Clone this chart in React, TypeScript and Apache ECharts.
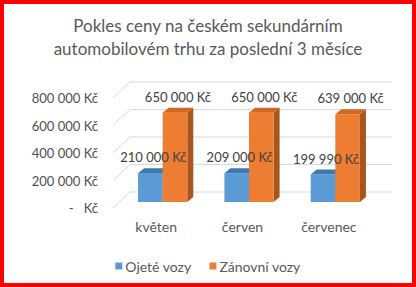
import React, { useEffect, useRef } from "react";
import * as echarts from "echarts";

const categories = ["květen", "červen", "červenec"];
const usedCars = [210000, 209000, 199990];
const nearlyNewCars = [650000, 650000, 639000];
const yTicks = [0, 200000, 400000, 600000, 800000];
const seriesNames = ["Ojeté vozy", "Zánovní vozy"];
const titleText = "Pokles ceny na českém sekundárním\nautomobilovém trhu za poslední 3 měsíce";

const FONT = "Lato";

const fmt = (v: number) =>
  v === 0 ? "-   Kč" : String(v).replace(/\B(?=(\d{3})+(?!\d))/g, " ") + " Kč";

const DX = 6.5;
const DY = -6;
const TDX = 6;
const TDY = -5;

function geom(api: any, slot: number) {
  const idx = api.value(0);
  const val = api.value(1);
  const base = api.coord([idx, 0]);
  const tp = api.coord([idx, val]);
  const band = api.size([1, 0])[0];
  const w = band * 0.285;
  const x0 = base[0] + DX + (slot - 1) * w;
  const yb = base[1] + DY;
  const yt = tp[1] + DY;
  return { val, w, x0, yb, yt };
}

function makeBar(slot: number, front: string, top: string, side: string) {
  return (params: any, api: any) => {
    const { w, x0, yb, yt } = geom(api, slot);
    return {
      type: "group",
      children: [
        {
          type: "polygon",
          shape: {
            points: [
              [x0 + w, yt],
              [x0 + w + TDX, yt + TDY],
              [x0 + w + TDX, yb + TDY],
              [x0 + w, yb],
            ],
          },
          style: { fill: side },
        },
        {
          type: "rect",
          shape: { x: x0, y: yt, width: w, height: yb - yt },
          style: { fill: front },
        },
        {
          type: "polygon",
          shape: {
            points: [
              [x0, yt],
              [x0 + w, yt],
              [x0 + w + TDX, yt + TDY],
              [x0 + TDX, yt + TDY],
            ],
          },
          style: { fill: top },
        },
      ],
    };
  };
}

function makeLabel(slot: number, labelDx: number) {
  return (params: any, api: any) => {
    const { val, w, x0, yt } = geom(api, slot);
    return {
      type: "text",
      x: x0 + w / 2 + labelDx,
      y: yt - 16,
      style: {
        text: fmt(val),
        fill: "#404040",
        font: `13px ${FONT}`,
        align: "center",
        verticalAlign: "middle",
      },
    };
  };
}

export default function App() {
  const ref = useRef<HTMLDivElement>(null);
  useEffect(() => {
    const chart = echarts.init(ref.current!, undefined, { renderer: "svg" });
    chart.setOption({
      animation: false,
      backgroundColor: "#ffffff",
      textStyle: { fontFamily: FONT },
      title: {
        text: titleText,
        left: "center",
        top: 9,
        textStyle: {
          fontFamily: FONT,
          fontSize: 17,
          fontWeight: "normal",
          color: "#595959",
          lineHeight: 23,
        },
      },
      legend: {
        data: seriesNames,
        left: "center",
        top: 254,
        icon: "rect",
        itemWidth: 7,
        itemHeight: 7,
        itemGap: 18,
        textStyle: { fontFamily: FONT, fontSize: 14, color: "#595959", padding: [0, 0, 0, -2] },
      },
      grid: { left: 113, width: 259, top: 98, height: 110 },
      xAxis: {
        type: "category",
        data: categories,
        axisLine: { show: false },
        axisTick: { show: false },
        axisLabel: { margin: 11, fontSize: 14, color: "#595959", fontFamily: FONT },
      },
      yAxis: {
        type: "value",
        min: 0,
        max: 800000,
        interval: 200000,
        axisLine: { show: false },
        axisTick: { show: false },
        splitLine: { show: false },
        axisLabel: {
          margin: 15,
          fontSize: 13,
          color: "#505050",
          fontFamily: FONT,
          formatter: (v: number) => fmt(v),
        },
      },
      series: [
        {
          type: "custom",
          name: "grid",
          silent: true,
          clip: false,
          z: 0,
          data: yTicks.map((v) => [0, v]),
          encode: { x: 0, y: 1 },
          renderItem: (params: any, api: any) => {
            const cs = params.coordSys;
            const y = api.coord([0, api.value(1)])[1];
            return {
              type: "polyline",
              shape: {
                points: [
                  [cs.x, y],
                  [cs.x + 17, y - 16],
                  [cs.x + cs.width + 20, y - 16],
                ],
              },
              style: { stroke: "#d9d9d9", lineWidth: 1, fill: "none" },
            };
          },
        },
        {
          type: "custom",
          name: seriesNames[0],
          clip: false,
          z: 2,
          itemStyle: { color: "#5b9bd5" },
          data: usedCars.map((v, i) => [i, v]),
          encode: { x: 0, y: 1 },
          renderItem: makeBar(0, "#5b9bd5", "#3f78b0", "#3a6d9e"),
        },
        {
          type: "custom",
          name: seriesNames[1],
          clip: false,
          z: 3,
          itemStyle: { color: "#ed7d31" },
          data: nearlyNewCars.map((v, i) => [i, v]),
          encode: { x: 0, y: 1 },
          renderItem: makeBar(1, "#ed7d31", "#cf6a22", "#a9561e"),
        },
        {
          type: "custom",
          name: "labels-used",
          clip: false,
          silent: true,
          z: 5,
          data: usedCars.map((v, i) => [i, v]),
          encode: { x: 0, y: 1 },
          renderItem: makeLabel(0, 3),
        },
        {
          type: "custom",
          name: "labels-new",
          clip: false,
          silent: true,
          z: 5,
          data: nearlyNewCars.map((v, i) => [i, v]),
          encode: { x: 0, y: 1 },
          renderItem: makeLabel(1, 3),
        },
      ],
    });
    return () => chart.dispose();
  }, []);
  return (
    <div style={{ position: "fixed", left: 0, top: 0, width: 416, height: 287, background: "#fff" }}>
      <div ref={ref} style={{ position: "absolute", left: 0, top: 0, width: 416, height: 287 }} />
      <div
        style={{
          position: "absolute",
          left: 0,
          top: 0,
          width: 416,
          height: 287,
          boxSizing: "border-box",
          border: "4px solid #ff0000",
          pointerEvents: "none",
        }}
      />
    </div>
  );
}
